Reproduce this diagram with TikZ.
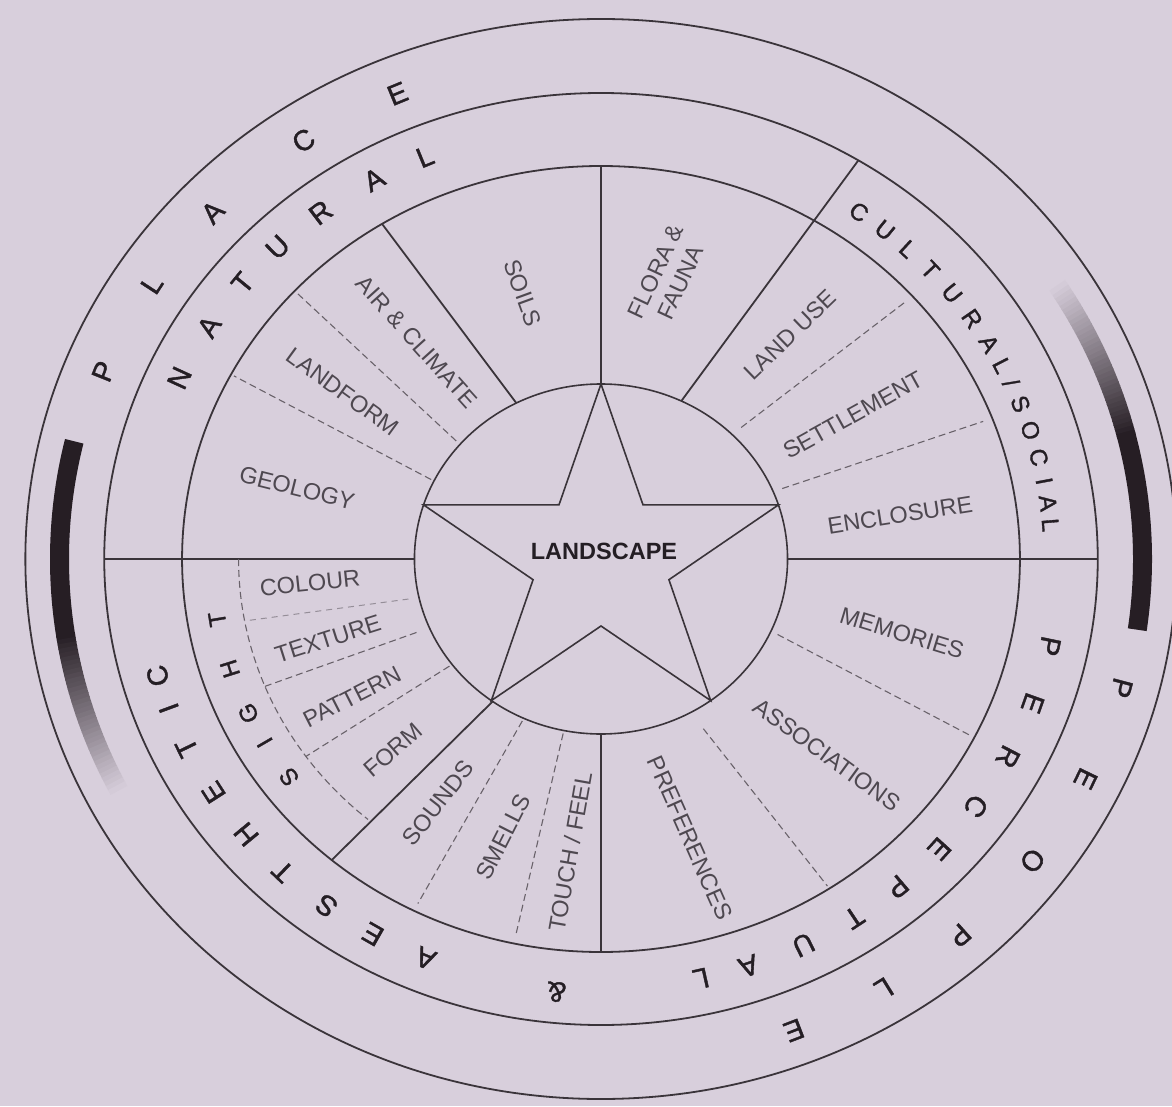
\documentclass[tikz,border=0pt]{standalone}
\usepackage{fontspec}
\setmainfont{Liberation Sans}
\newfontfamily\ringfont[FakeBold=1.4]{Liberation Sans}
\definecolor{bg}{RGB}{216,207,220}
\definecolor{ink}{RGB}{36,30,36}
\definecolor{linec}{RGB}{58,52,58}
\definecolor{dlinec}{RGB}{105,98,106}
\definecolor{labc}{RGB}{78,72,80}
\definecolor{barc}{RGB}{38,30,36}
\newcommand\slashch{/}
\begin{document}
\begin{tikzpicture}[x=1pt,y=1pt,
  ringline/.style={line width=1.8pt, draw=linec},
  soliddiv/.style={line width=1.8pt, draw=linec},
  thindiv/.style={line width=1.1pt, draw=linec},
  dashdiv/.style={line width=1.1pt, draw=dlinec, dash pattern=on 7pt off 4pt},
  faintdiv/.style={line width=1pt, draw=dlinec!60!bg, dash pattern=on 6pt off 5pt},
  bigletter/.style={text=ink, font=\ringfont\fontsize{28.5}{28.5}\selectfont, inner sep=0pt},
  midletter/.style={text=ink, font=\ringfont\fontsize{24}{24}\selectfont, inner sep=0pt},
  seglabel/.style={text=labc, font=\fontsize{23.5}{27}\selectfont, inner sep=1pt, align=center},
  corelabel/.style={text=ink, font=\fontsize{23.5}{23.5}\selectfont\bfseries, inner sep=1pt},
]
\useasboundingbox (-601,-547) rectangle (571,559);
\fill[bg] (-601,-547) rectangle (571,559);

\begin{scope}[xscale=1.066]
  % gradient bars in the outer ring
  \draw[draw=barc, line width=19pt] (166.6:508) arc[start angle=166.6, end angle=188.8, radius=508];
  \foreach \k in {0,...,36} {
    \pgfmathsetmacro\sa{188.5+\k*0.5}
    \pgfmathsetmacro\ea{\sa+0.6}
    \pgfmathtruncatemacro\p{100-\k*100/37}
    \draw[draw=barc!\p!bg, line width=19pt] (\sa:508) arc[start angle=\sa, end angle=\ea, radius=508];
  }
  \draw[draw=barc, line width=19pt] (-8:508) arc[start angle=-8, end angle=14.3, radius=508];
  \foreach \k in {0,...,36} {
    \pgfmathsetmacro\sa{14+\k*0.5}
    \pgfmathsetmacro\ea{\sa+0.6}
    \pgfmathtruncatemacro\p{100-\k*100/37}
    \draw[draw=barc!\p!bg, line width=19pt] (\sa:508) arc[start angle=\sa, end angle=\ea, radius=508];
  }

  % circles
  \draw[ringline] (0,0) circle (540);
  \draw[ringline] (0,0) circle (466);
  \draw[ringline] (0,0) circle (393);
  \draw[ringline, line width=1.6pt] (0,0) circle (175);

  % star
  \draw[line width=1.6pt, draw=linec] (90:175) -- (126:67) -- (162:175) -- (198:67) -- (234:175)
     -- (270:67) -- (306:175) -- (342:67) -- (18:175) -- (54:67) -- cycle;

  % solid dividers
  \draw[soliddiv] (180:175) -- (180:466);
  \draw[soliddiv] (0:175) -- (0:466);
  \draw[soliddiv] (117:175) -- (121.5:393);
  \draw[soliddiv] (64.5:175) -- (58.8:466);
  \draw[soliddiv] (-125.5:175) -- (-130:393);
  \draw[thindiv] (90:175) -- (90:393);
  \draw[thindiv, line width=1.5pt] (-90:175) -- (-90:393);

  % dashed dividers
  \draw[dashdiv] (153.5:178) -- (152:390);
  \draw[dashdiv] (139:180) -- (137:390);
  \draw[dashdiv] (45:186) -- (42:385);
  \draw[dashdiv] (22.5:184) -- (21:384);
  \draw[dashdiv] (-24.5:182) -- (-27:390);
  \draw[dashdiv] (-60.5:195) -- (-57:390);
  \draw[dashdiv] (-101.5:178) -- (-102:385);
  \draw[dashdiv] (-114.5:178) -- (-116.5:385);
  \draw[dashdiv] (-143:178) -- (-144.5:340);
  \draw[dashdiv] (-157:188) -- (-158:340);
  \draw[faintdiv] (-167.5:185) -- (-169.5:340);
  \draw[dashdiv] (180:340) arc[start angle=180, end angle=230, radius=340];

  % outer ring letters
  \foreach \a/\ch [count=\i] in {158.1/P,146.9/L,136.4/A,123.7/C,112.3/E}
    \node[bigletter, rotate=\a-90] (place\i) at (\a:503) {\ch};
  \foreach \a/\ch [count=\i] in {-14.8/P,-25.8/E,-36.7/O,-48.2/P,-58.3/L,-69/E}
    \node[bigletter, rotate=\a-90] (people\i) at (\a:505) {\ch};

  % middle ring letters
  \foreach \a/\ch [count=\i] in {155.4/N,147.7/A,140.6/T,134.2/U,127.2/R,119.3/A,112.3/L}
    \node[bigletter, rotate=\a-90] (natural\i) at (\a:435) {\ch};
  \foreach \a/\ch [count=\i] in {55.1/C,51.0/U,47.1/L,43.1/T,38.9/U,34.6/R,30.6/A,27.2/L,24.6/\slashch,21.5/S,17.7/O,13.9/C,10.6/I,7.6/A,4.6/L}
    \node[midletter, rotate=\a-90] (cult\i) at (\a:423) {\ch};
  \foreach \a/\ch [count=\i] in {-11.7/P,-19.6/E,-27.4/R,-35.1/C,-42.4/E,-49.7/P,-56.5/T,-63.8/U,-71.2/A,-77.4/L}
    \node[bigletter, rotate=\a-90] (percep\i) at (\a:430) {\ch};
  \node[bigletter, rotate=-185.5] (amp) at (-95.5:435) {\&};
  \foreach \a/\ch [count=\i] in {-112.4/A,-119.7/E,-126.6/S,-133.7/T,-140.4/H,-147.3/E,-154.1/T,-159.8/I,-164.3/C}
    \node[bigletter, rotate=\a-90] (aesth\i) at (\a:432) {\ch};
  \foreach \a/\ch [count=\i] in {-143.3/S,-149.8/I,-155/G,-162.5/H,-170.5/T}
    \node[midletter, rotate=\a-90] (sight\i) at (\a:365) {\ch};
\end{scope}

% segment labels
\node[seglabel, rotate=-14] (geo) at (-304,71) {GEOLOGY};
\node[seglabel, rotate=-36] (landform) at (-258,167) {LANDFORM};
\node[seglabel, rotate=-48] (air) at (-184,217) {AIR \& CLIMATE};
\node[seglabel, rotate=-70] (soils) at (-78,266) {SOILS};
\node[seglabel, rotate=65] (flora) at (67,282) {FLORA \&\\FAUNA};
\node[seglabel, rotate=44] (landuse) at (189,224) {LAND USE};
\node[seglabel, rotate=29] (settle) at (252,144) {SETTLEMENT};
\node[seglabel, rotate=9] (encl) at (299,44) {ENCLOSURE};
\node[seglabel, rotate=-17] (memo) at (301,-74) {MEMORIES};
\node[seglabel, rotate=-36] (assoc) at (226,-196) {ASSOCIATIONS};
\node[seglabel, rotate=-66] (pref) at (89,-279) {PREFERENCES};
\node[seglabel, rotate=80] (touch) at (-31,-293) {TOUCH / FEEL};
\node[seglabel, rotate=63] (smell) at (-98,-278) {SMELLS};
\node[seglabel, rotate=52] (sound) at (-163,-244) {SOUNDS};
\node[seglabel, rotate=41] (form) at (-208,-191) {FORM};
\node[seglabel, rotate=27] (pattern) at (-249,-138) {PATTERN};
\node[seglabel, rotate=17.6] (texture) at (-273,-80) {TEXTURE};
\node[seglabel, rotate=6] (colour) at (-291,-24) {COLOUR};
\node[corelabel] (landscape) at (3,8) {LANDSCAPE};
\end{tikzpicture}
\end{document}
